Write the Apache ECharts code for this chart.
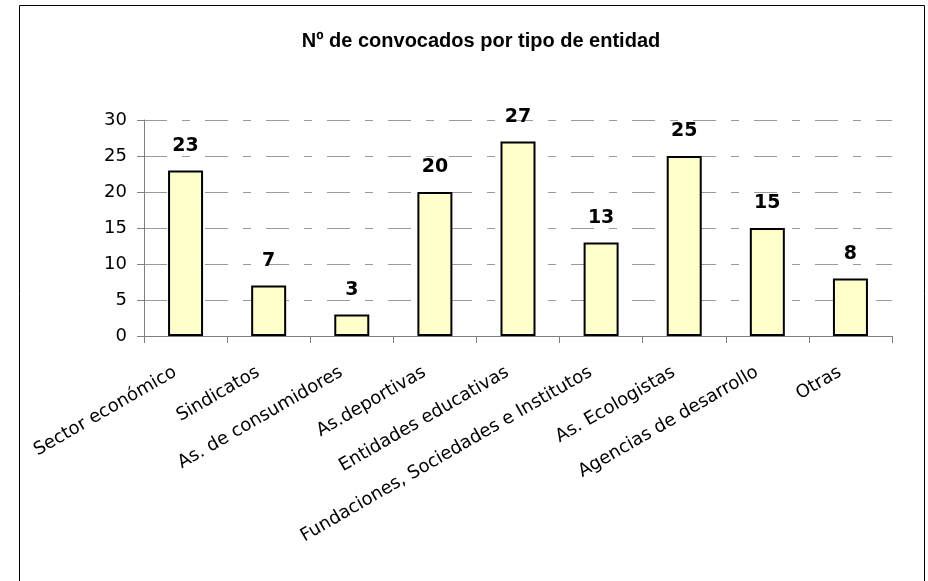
<!DOCTYPE html>
<html>
<head>
<meta charset="utf-8">
<title>Nº de convocados por tipo de entidad</title>
<script src="https://cdn.jsdelivr.net/npm/echarts@6/dist/echarts.min.js"></script>
<style>
  html, body { margin: 0; padding: 0; background: #fff; }
  #chart { width: 928px; height: 581px; }
</style>
</head>
<body>
<div id="chart"></div>
<script>
// datos
const titulo = 'Nº de convocados por tipo de entidad'
const categorias = [
  'Sector económico',
  'Sindicatos',
  'As. de consumidores',
  'As.deportivas',
  'Entidades educativas',
  'Fundaciones, Sociedades e Institutos',
  'As. Ecologistas',
  'Agencias de desarrollo',
  'Otras'
]
const convocados = [23, 7, 3, 20, 27, 13, 25, 15, 8]
const ejeY = { min: 0, max: 30, interval: 5 }

const chart = echarts.init(document.getElementById('chart'))
const fuente = 'DejaVu Sans'

let option = {
  animation: false,
  backgroundColor: '#fff',
  title: {
    text: titulo,
    left: 476,
    top: 26,
    textAlign: 'center',
    textStyle: {
      fontFamily: 'Liberation Sans',
      fontSize: 20,
      fontWeight: 'bold',
      color: '#000'
    }
  },
  graphic: [
    { // marco
      type: 'rect',
      shape: { x: 19.5, y: 5.5, width: 905, height: 620 },
      style: { fill: null, stroke: '#000', lineWidth: 1 },
      silent: true
    }
  ],
  grid: {
    left: 144,
    right: 36,
    top: 120,
    bottom: 245,
    containLabel: false
  },
  xAxis: {
    type: 'category',
    data: categorias,
    boundaryGap: true,
    axisLine: { show: true, lineStyle: { color: '#808080', width: 1 } },
    axisTick: { show: true, alignWithLabel: false, length: 7, lineStyle: { color: '#808080' } },
    axisLabel: {
      interval: 0,
      rotate: 30,
      margin: 29,
      padding: [0, 12, 0, 0],
      fontFamily: fuente,
      fontSize: 18,
      color: '#000'
    }
  },
  yAxis: {
    type: 'value',
    min: ejeY.min,
    max: ejeY.max,
    interval: ejeY.interval,
    axisLine: { show: true, lineStyle: { color: '#808080', width: 1 } },
    axisTick: { show: true, length: 7, lineStyle: { color: '#808080' } },
    axisLabel: {
      margin: 17,
      fontFamily: fuente,
      fontSize: 18,
      color: '#000'
    },
    splitLine: {
      show: true,
      lineStyle: { color: '#9a9a9a', width: 1, type: [23, 15, 8, 15] }
    }
  },
  series: [
    {
      type: 'bar',
      data: convocados,
      barWidth: 35,
      itemStyle: {
        color: '#ffffcc',
        borderColor: '#000',
        borderWidth: 2
      },
      label: {
        show: true,
        position: 'top',
        distance: 15,
        fontFamily: fuente,
        fontSize: 19,
        fontWeight: 'bold',
        color: '#000'
      }
    }
  ]
}
chart.setOption(option)
</script>
</body>
</html>
